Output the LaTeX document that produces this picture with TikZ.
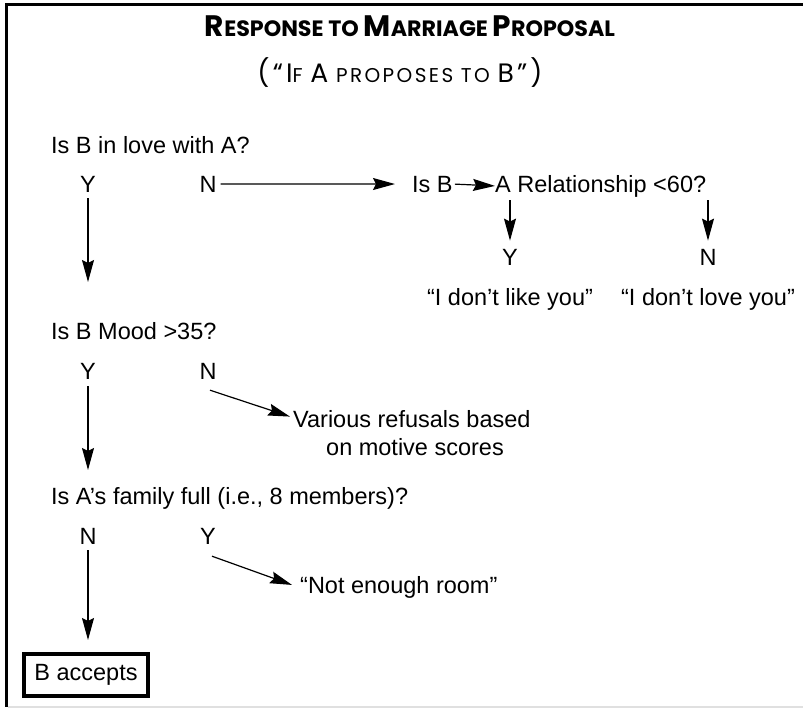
\documentclass[tikz,border=0pt]{standalone}
\usepackage{fontspec}
\usepackage{graphicx}
\setmainfont{Liberation Sans}
\newfontfamily\titlefont{Poppins}
\usetikzlibrary{arrows.meta}
\newcommand\tbig[1]{{\fontsize{22}{26}\selectfont #1}}
\newcommand\tsml[1]{{\fontsize{16.5}{20}\selectfont #1}}
\begin{document}
\begin{tikzpicture}[x=1pt,y=-1pt,
  txt/.style={inner sep=0pt, font=\fontsize{23.5}{28}\selectfont},
  ttl/.style={inner sep=0pt, font=\titlefont},
  arr/.style={-{Stealth[length=22pt,width=12pt,inset=3pt]}, line width=1.2pt},
  acc/.style={draw, line width=4pt, inner sep=0pt, minimum width=124pt, minimum height=42pt, font=\fontsize{23.5}{28}\selectfont}]
\useasboundingbox (0,0) rectangle (803,709);
% frame
\draw[line width=3pt] (803,4.5) -- (6.5,4.5) -- (6.5,707);
\draw[black!12, line width=1.5pt] (8,707) -- (803,707);
% title
\node[ttl, anchor=base] (t1) at (410,37) {\resizebox{410pt}{!}{\bfseries\tbig{R}\tsml{ESPONSE TO }\tbig{M}\tsml{ARRIAGE }\tbig{P}\tsml{ROPOSAL}}};
\node[ttl, anchor=base] (t2) at (400,83) {\resizebox{285pt}{!}{\addfontfeature{LetterSpace=12}\tbig{(“I}\tsml{F }\tbig{A}\tsml{ PROPOSES TO }\tbig{B”)}}};
% first question
\node[txt, anchor=base west] (q1) at (51,153) {Is B in love with A?};
\node[txt, anchor=base] (y1) at (88,192) {Y};
\node[txt, anchor=base] (n1) at (208,192) {N};
\node[txt, anchor=base west] (isb) at (412,192) {Is B};
\node[txt, anchor=base west] (rel) at (495,192) {A Relationship <60?};
\node[txt, anchor=base] (y2) at (510,265) {Y};
\node[txt, anchor=base] (n2) at (708,265) {N};
\node[txt, anchor=base] (like) at (510,305) {“I don’t like you”};
\node[txt, anchor=base] (love) at (708,305) {“I don’t love you”};
% second question
\node[txt, anchor=base west] (q2) at (51,339) {Is B Mood >35?};
\node[txt, anchor=base] (y3) at (88,379) {Y};
\node[txt, anchor=base] (n3) at (208,379) {N};
\node[txt, anchor=base west] (ref1) at (293,427) {Various refusals based};
\node[txt, anchor=base] (ref2) at (415,455) {on motive scores};
% third question
\node[txt, anchor=base west] (q3) at (51,504) {Is A’s family full (i.e., 8 members)?};
\node[txt, anchor=base] (n4) at (88,544) {N};
\node[txt, anchor=base] (y4) at (208,544) {Y};
\node[txt, anchor=base west] (room) at (300,593) {“Not enough room”};
\node[acc] (acc) at (86,675) {B accepts};
% arrow ends
\coordinate (e1) at (88,282);
\coordinate (e2) at (88,470);
\coordinate (e3) at (88,640);
% connectors
\draw[arr, shorten <=6pt] (y1) -- (e1);
\draw[arr, shorten <=4pt, shorten >=17pt] (n1.east) -- (isb.west);
\draw[arr, shorten <=2pt] (isb.east) -- (rel.west);
\draw[arr, shorten <=3pt, shorten >=8pt] (y2 |- rel.south) -- (y2.north);
\draw[arr, shorten <=3pt, shorten >=8pt] (n2 |- rel.south) -- (n2.north);
\draw[arr, shorten <=7pt] (y3) -- (e2);
\draw[arr] ([xshift=2pt,yshift=-11pt]n3.south) -- ([xshift=-3pt,yshift=2pt]ref1.west);
\draw[arr, shorten <=6pt] (n4) -- (e3);
\draw[arr] ([xshift=4pt,yshift=-12pt]y4.south) -- ([xshift=-8pt,yshift=2pt]room.west);
\end{tikzpicture}
\end{document}
